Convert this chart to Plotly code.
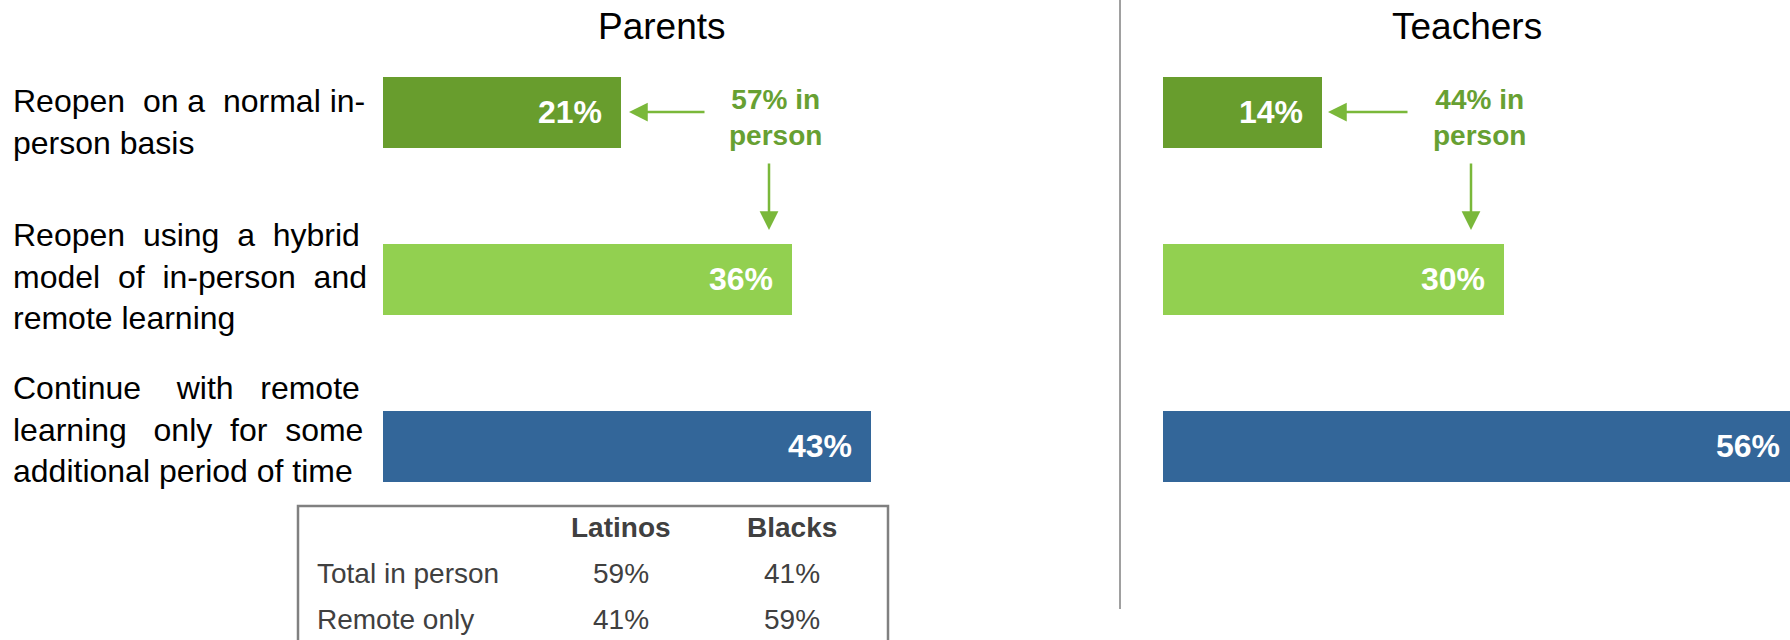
import plotly.graph_objects as go

W, H = 1790, 640

CATEGORIES = [
    "Reopen on a normal in-person basis",
    "Reopen using a hybrid model of in-person and remote learning",
    "Continue with remote learning only for some additional period of time",
]
# justified lines of the left-hand labels (extra spaces stand in for justification)
CATEGORY_LINES = [
    ["Reopen  on a  normal in-", "person basis"],
    ["Reopen  using  a  hybrid", "model  of  in-person  and", "remote learning"],
    ["Continue    with   remote", "learning   only  for  some", "additional period of time"],
]
PARENTS = [21, 36, 43]
TEACHERS = [14, 30, 56]
IN_PERSON = [57, 44]  # parents, teachers
BAR_COLORS = ["#689D2D", "#92D050", "#336699"]

TABLE_COLUMNS = ["Latinos", "Blacks"]
TABLE_ROWS = ["Total in person", "Remote only"]
LATINOS = [59, 41]
BLACKS = [41, 59]

GREEN_TEXT = "#67A032"
GREEN_ARROW = "#7AB83A"
GREY_TEXT = "#404040"
FONT = "Liberation Sans, Arial, sans-serif"
PX_PER_PCT = 11.35


def px(x):
    return x / W


def py(y):
    return 1 - y / H


def nb(s):
    return s.replace(" ", "\u00a0")


fig = go.Figure()

for vals, xa, ya in [(PARENTS, "x", "y"), (TEACHERS, "x2", "y2")]:
    fig.add_trace(go.Bar(
        y=CATEGORIES,
        x=vals,
        orientation="h",
        marker=dict(color=BAR_COLORS, line_width=0),
        width=0.42,
        text=[f"<b>{v}%</b>\u2002" for v in vals],
        textposition="inside",
        insidetextanchor="end",
        textangle=0,
        textfont=dict(size=32, color="white", family=FONT),
        xaxis=xa,
        yaxis=ya,
        hoverinfo="skip",
        showlegend=False,
    ))

yax = dict(
    domain=[py(529.5), py(28.5)],
    type="category",
    categoryorder="array",
    categoryarray=CATEGORIES,
    range=[2.5, -0.5],
    visible=False,
)

annotations = []

# panel titles
for name, cx in [("Parents", 662), ("Teachers", 1467)]:
    annotations.append(dict(
        text=name, x=px(cx), y=py(26), xref="paper", yref="paper",
        xanchor="center", yanchor="middle", showarrow=False,
        font=dict(size=37, color="black", family=FONT),
    ))

# left-hand category labels
for lines, cy in zip(CATEGORY_LINES, [122, 276, 429]):
    annotations.append(dict(
        text="<br>".join(nb(l) for l in lines), x=px(11), y=py(cy),
        xref="paper", yref="paper", xanchor="left", yanchor="middle",
        align="left", showarrow=False,
        font=dict(size=32, color="black", family=FONT),
    ))

# "xx% in person" callouts with arrows
for v, cx, hx, tx, vx in [(IN_PERSON[0], 775, 629, 706, 769),
                          (IN_PERSON[1], 1479, 1328, 1409, 1471)]:
    annotations.append(dict(
        text=f"<b>{v}% in</b><br><b>person</b>", x=px(cx), y=py(118),
        xref="paper", yref="paper", xanchor="center", yanchor="middle",
        showarrow=False, font=dict(size=28, color=GREEN_TEXT, family=FONT),
    ))
    annotations.append(dict(
        text="", x=px(hx), y=py(112), xref="paper", yref="paper",
        ax=tx - hx, ay=0, showarrow=True, arrowhead=2, arrowsize=1.5,
        arrowwidth=2.5, arrowcolor=GREEN_ARROW,
    ))
    annotations.append(dict(
        text="", x=px(vx), y=py(230), xref="paper", yref="paper",
        ax=0, ay=-68, showarrow=True, arrowhead=2, arrowsize=1.5,
        arrowwidth=2.5, arrowcolor=GREEN_ARROW,
    ))

# small table under the parents panel
col_x = [621, 792]
for name, cx in zip(TABLE_COLUMNS, col_x):
    annotations.append(dict(
        text=f"<b>{name}</b>", x=px(cx), y=py(527), xref="paper", yref="paper",
        xanchor="center", yanchor="middle", showarrow=False,
        font=dict(size=28, color=GREY_TEXT, family=FONT),
    ))
for i, (row, cy) in enumerate(zip(TABLE_ROWS, [573, 619])):
    annotations.append(dict(
        text=row, x=px(315), y=py(cy), xref="paper", yref="paper",
        xanchor="left", yanchor="middle", showarrow=False,
        font=dict(size=28, color=GREY_TEXT, family=FONT),
    ))
    for vals, cx in zip([LATINOS, BLACKS], col_x):
        annotations.append(dict(
            text=f"{vals[i]}%", x=px(cx), y=py(cy), xref="paper", yref="paper",
            xanchor="center", yanchor="middle", showarrow=False,
            font=dict(size=28, color=GREY_TEXT, family=FONT),
        ))

shapes = [
    dict(type="line", xref="paper", yref="paper", x0=px(1120), x1=px(1120),
         y0=py(0), y1=py(609), line=dict(color="#A0A0A0", width=2)),
    dict(type="rect", xref="paper", yref="paper", x0=px(298), x1=px(888),
         y0=py(506), y1=py(660), line=dict(color="#808080", width=2.5)),
]

fig.update_layout(
    width=W,
    height=H,
    margin=dict(l=0, r=0, t=0, b=0),
    paper_bgcolor="white",
    plot_bgcolor="white",
    font=dict(family=FONT),
    xaxis=dict(domain=[px(383), px(1100)], range=[0, (1100 - 383) / PX_PER_PCT],
               visible=False),
    xaxis2=dict(domain=[px(1163), 1], range=[0, (W - 1163) / PX_PER_PCT],
                visible=False, anchor="y2"),
    yaxis=yax,
    yaxis2=dict(yax, anchor="x2"),
    annotations=annotations,
    shapes=shapes,
    bargap=0,
)

fig.write_html(
    "out.html",
    config={"displayModeBar": False},
    post_script="document.body.style.margin = '0'; document.body.style.overflow = 'hidden';",
)
